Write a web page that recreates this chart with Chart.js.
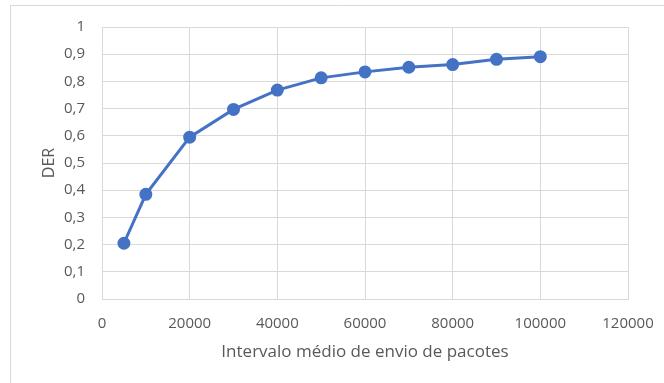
<!DOCTYPE html>
<html>
<head>
<meta charset="utf-8">
<script src="https://cdn.jsdelivr.net/npm/chart.js@4/dist/chart.umd.min.js"></script>
<style>
  html, body { margin: 0; padding: 0; background: #fff; }
  #wrap { position: relative; width: 664px; height: 383px; }
</style>
</head>
<body>
<div id="wrap"><canvas id="lineChart" width="664" height="383"></canvas></div>
<script>
// data
const intervals = [5000, 10000, 20000, 30000, 40000, 50000, 60000, 70000, 80000, 90000, 100000];
const derValues = [0.205, 0.385, 0.595, 0.697, 0.768, 0.813, 0.835, 0.852, 0.862, 0.881, 0.891];
const xTitle = 'Intervalo médio de envio de pacotes';
const yTitle = 'DER';

const textGray = '#595959';
const gridGray = '#d9d9d9';

// light frame round the chart, like the office chart border
const framePlugin = {
  id: 'frame',
  beforeDraw(chart) {
    const ctx = chart.ctx;
    ctx.save();
    ctx.strokeStyle = gridGray;
    ctx.lineWidth = 1;
    ctx.beginPath();
    ctx.moveTo(10.5, 383);
    ctx.lineTo(10.5, 5.5);
    ctx.lineTo(664, 5.5);
    ctx.stroke();
    ctx.restore();
  }
};

const points = intervals.map((x, i) => ({ x: x, y: derValues[i] }));

const myChart = new Chart(document.getElementById('lineChart').getContext('2d'), {
  type: 'line',
  data: {
    datasets: [{
      label: yTitle,
      data: points,
      borderColor: '#4472c4',
      backgroundColor: '#4472c4',
      borderWidth: 3,
      pointRadius: 5,
      pointHoverRadius: 5,
      fill: false,
      tension: 0
    }]
  },
  options: {
    responsive: false,
    animation: false,
    layout: { padding: { left: 36, top: 27, right: 36, bottom: 17 } },
    plugins: { legend: { display: false }, tooltip: { enabled: false } },
    scales: {
      x: {
        type: 'linear',
        min: 0,
        max: 120000,
        ticks: {
          stepSize: 20000,
          color: textGray,
          font: { family: 'Open Sans', size: 15 },
          padding: 16,
          maxRotation: 0,
          callback: v => String(v)
        },
        grid: { color: gridGray, drawTicks: false },
        border: { color: gridGray },
        title: {
          display: true,
          text: xTitle,
          color: textGray,
          font: { family: 'Open Sans', size: 17 },
          padding: { top: 8 }
        },
        afterFit(scale) {
          scale.height = 67;
          scale.paddingLeft = 0;
          scale.paddingRight = 0;
        }
      },
      y: {
        min: 0,
        max: 1,
        ticks: {
          stepSize: 0.1,
          color: textGray,
          font: { family: 'Open Sans', size: 15 },
          padding: 17,
          callback: v => String(Math.round(v * 10) / 10).replace('.', ',')
        },
        grid: { color: gridGray, drawTicks: false },
        border: { display: false },
        title: {
          display: true,
          text: yTitle,
          color: textGray,
          font: { family: 'Open Sans', size: 16 },
          padding: { bottom: 8 }
        },
        afterFit(scale) { scale.width = 66; }
      }
    }
  },
  plugins: [framePlugin]
});
</script>
</body>
</html>
